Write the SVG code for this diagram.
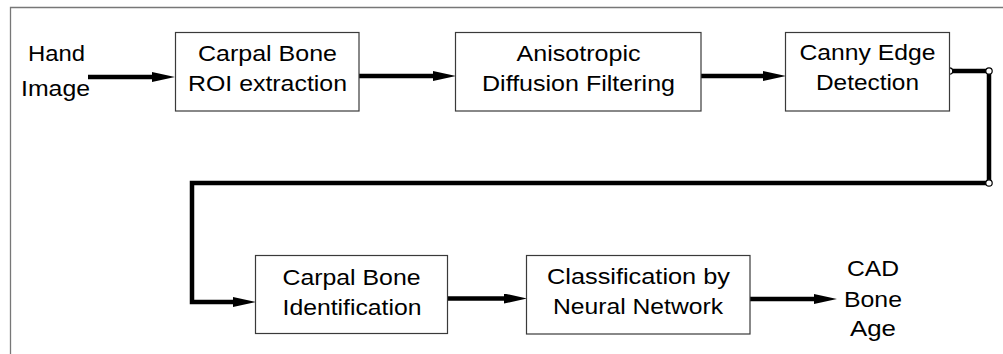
<svg xmlns="http://www.w3.org/2000/svg" width="1003" height="354" viewBox="0 0 1003 354">
  <style>
    .frame { fill: none; stroke: #777; stroke-width: 1.3; }
    .box { fill: #fff; stroke: #3a3a3a; stroke-width: 1.2; }
    .lbl { font-family: "Liberation Sans", Arial, sans-serif; font-size: 22.5px; fill: #000; text-anchor: middle; }
    .wire { fill: none; stroke: #000; stroke-width: 4.5; stroke-linejoin: miter; }
    .joint { fill: #fff; stroke: #000; stroke-width: 1.2; }
  </style>
  <defs>
    <marker id="head" markerUnits="userSpaceOnUse" markerWidth="24" markerHeight="12" refX="0" refY="5" orient="auto">
      <path d="M0,0 L23,5 L0,10 z" fill="#000"/>
    </marker>
  </defs>

  <rect width="1003" height="354" fill="#fff"/>
  <!-- outer frame: top and left edges only -->
  <path class="frame" d="M1004,7.5 H10.5 V355"/>

  <g id="connectors">
    <path class="wire" d="M88,77 H152" marker-end="url(#head)"/>
    <path class="wire" d="M359,76 H433" marker-end="url(#head)"/>
    <path class="wire" d="M701,76 H763" marker-end="url(#head)"/>
    <path class="wire" d="M949,71 H989 V183 H192 V302 H233" marker-end="url(#head)"/>
    <path class="wire" d="M447,298.5 H504" marker-end="url(#head)"/>
    <path class="wire" d="M750,299 H814" marker-end="url(#head)"/>
    <circle class="joint" cx="949.5" cy="71" r="3.2"/>
    <circle class="joint" cx="989" cy="71" r="3.2"/>
    <circle class="joint" cx="989" cy="183" r="3.2"/>
  </g>

  <g id="input">
    <text class="lbl" x="56.5" y="61" textLength="57" lengthAdjust="spacingAndGlyphs">Hand</text>
    <text class="lbl" x="55.5" y="95.5" textLength="69" lengthAdjust="spacingAndGlyphs">Image</text>
  </g>

  <g id="roi">
    <rect class="box" x="175.5" y="32.5" width="183.5" height="78.5"/>
    <text class="lbl" x="267.5" y="61" textLength="139" lengthAdjust="spacingAndGlyphs">Carpal Bone</text>
    <text class="lbl" x="267.5" y="90.5" textLength="159" lengthAdjust="spacingAndGlyphs">ROI extraction</text>
  </g>

  <g id="diffusion">
    <rect class="box" x="455.5" y="32.5" width="245.5" height="78.5"/>
    <text class="lbl" x="578.5" y="61" textLength="124" lengthAdjust="spacingAndGlyphs">Anisotropic</text>
    <text class="lbl" x="578.5" y="90.5" textLength="193" lengthAdjust="spacingAndGlyphs">Diffusion Filtering</text>
  </g>

  <g id="canny">
    <rect class="box" x="785.5" y="32.5" width="164" height="78.5"/>
    <text class="lbl" x="867.5" y="60" textLength="136" lengthAdjust="spacingAndGlyphs">Canny Edge</text>
    <text class="lbl" x="867.5" y="90" textLength="103" lengthAdjust="spacingAndGlyphs">Detection</text>
  </g>

  <g id="identification">
    <rect class="box" x="255.5" y="255.5" width="192" height="78"/>
    <text class="lbl" x="351.5" y="285" textLength="138" lengthAdjust="spacingAndGlyphs">Carpal Bone</text>
    <text class="lbl" x="352" y="315" textLength="139" lengthAdjust="spacingAndGlyphs">Identification</text>
  </g>

  <g id="classification">
    <rect class="box" x="526.5" y="255.5" width="223.5" height="78.5"/>
    <text class="lbl" x="638.5" y="283.5" textLength="183" lengthAdjust="spacingAndGlyphs">Classification by</text>
    <text class="lbl" x="638" y="313.5" textLength="170" lengthAdjust="spacingAndGlyphs">Neural Network</text>
  </g>

  <g id="output">
    <text class="lbl" x="873" y="276" textLength="52" lengthAdjust="spacingAndGlyphs">CAD</text>
    <text class="lbl" x="873" y="306.5" textLength="58" lengthAdjust="spacingAndGlyphs">Bone</text>
    <text class="lbl" x="873" y="336" textLength="46" lengthAdjust="spacingAndGlyphs">Age</text>
  </g>
</svg>
